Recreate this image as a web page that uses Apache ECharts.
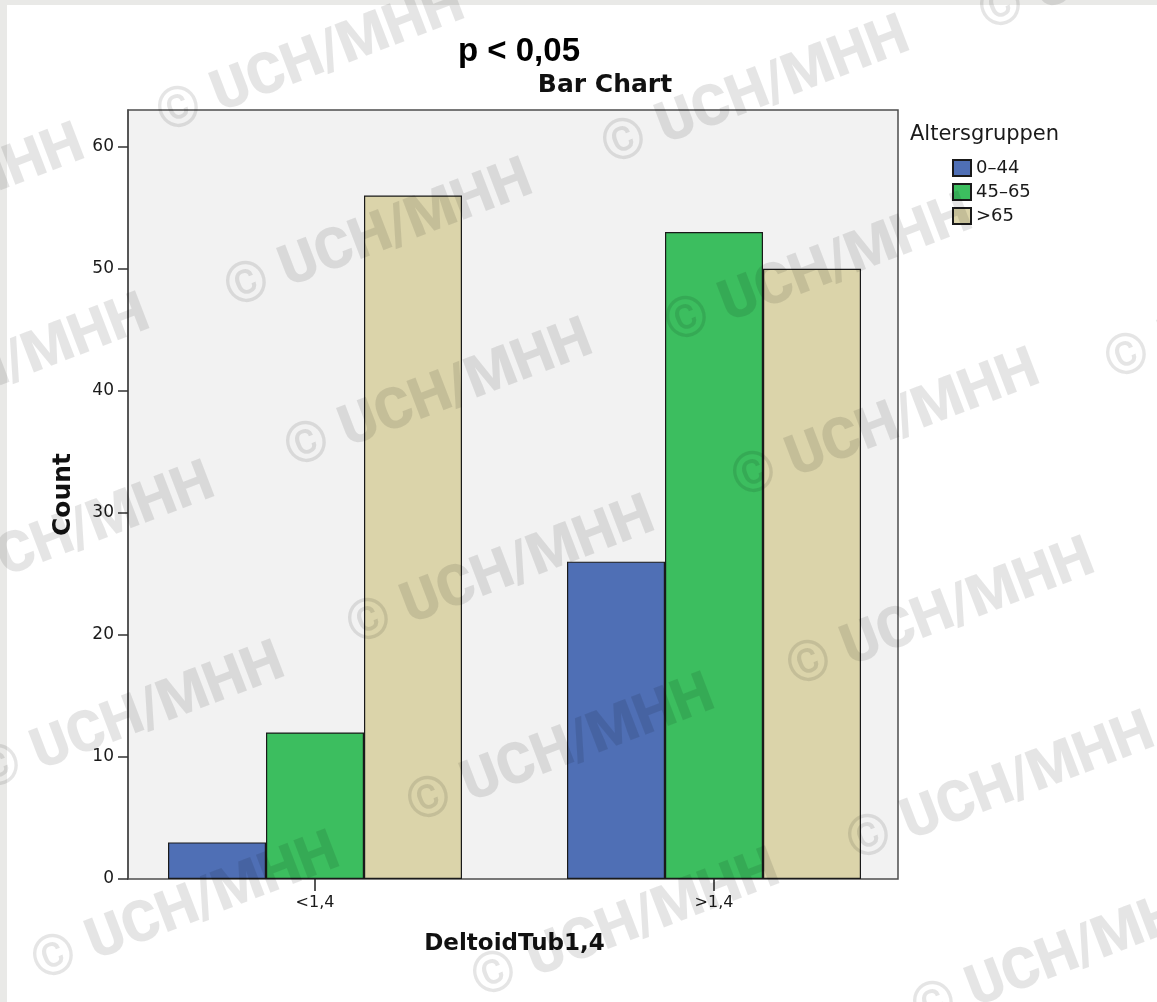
<!DOCTYPE html>
<html>
<head>
<meta charset="utf-8">
<script src="https://cdn.jsdelivr.net/npm/echarts@6/dist/echarts.min.js"></script>
<style>
  html, body { margin: 0; padding: 0; background: #ffffff; }
  #chart { width: 1157px; height: 1002px; }
</style>
</head>
<body>
<div id="chart"></div>
<script>
// Grouped bar chart: counts by DeltoidTub1,4 category and age group
const categories = ['<1,4', '>1,4'];
const ageGroups = ['0–44', '45–65', '>65'];
const counts0to44 = [3, 26];
const counts45to65 = [12, 53];
const countsOver65 = [56, 50];
const yTicks = [0, 10, 20, 30, 40, 50, 60];
const yMax = 63;

const groupColors = ['#4f6fb5', '#3cbe5f', '#dbd4aa'];
const seriesValues = [counts0to44, counts45to65, countsOver65];

// Anchor points of the repeated copyright stamp (position of the "©")
const stampAnchors = [
  [180, 112], [625, 144], [1002, 10],
  [-200, 252], [248, 287], [688, 322], [1128, 359],
  [-135, 422], [308, 447], [755, 477],
  [-70, 590], [370, 624], [810, 666],
  [0, 770], [430, 802], [870, 840],
  [55, 960], [495, 977], [935, 1007]
];

const chart = echarts.init(document.getElementById('chart'), null, { renderer: 'canvas' });

const stampElements = stampAnchors.map(function (p) {
  return {
    type: 'text',
    x: p[0], y: p[1],
    rotation: 21 * Math.PI / 180,
    z: 100,
    silent: true,
    style: {
      text: '© UCH/MHH',
      x: -22, y: 0,
      align: 'left',
      verticalAlign: 'middle',
      fontFamily: 'Roboto, "DejaVu Sans", sans-serif',
      fontWeight: 900,
      fontSize: 57,
      fill: 'rgba(0,0,0,0.1)'
    }
  };
});

const option = {
  backgroundColor: '#ffffff',
  animation: false,
  title: [
    {
      text: 'p < 0,05',
      left: 519, top: 35, padding: 0,
      textAlign: 'center',
      textStyle: { fontFamily: '"Liberation Sans Narrow", "Liberation Sans", Arial, sans-serif', fontWeight: 'bold', fontSize: 33, color: '#000' }
    },
    {
      text: 'Bar Chart',
      left: 605, top: 73, padding: 0,
      textAlign: 'center',
      textStyle: { fontFamily: '"DejaVu Sans", sans-serif', fontWeight: 'bold', fontSize: 25, color: '#111' }
    },
    {
      text: 'Altersgruppen',
      left: 910, top: 124, padding: 0,
      textStyle: { fontFamily: '"DejaVu Sans", sans-serif', fontWeight: 'normal', fontSize: 21, color: '#1a1a1a' }
    }
  ],
  legend: {
    orient: 'vertical',
    left: 952, top: 159,
    padding: 0,
    itemWidth: 18, itemHeight: 16, itemGap: 6,
    icon: 'rect',
    selectedMode: false,
    data: ageGroups,
    textStyle: { fontFamily: '"DejaVu Sans", sans-serif', fontSize: 18, color: '#1a1a1a' }
  },
  grid: [
    // plot frame with the count axis
    { left: 128, top: 110, width: 770, height: 769, show: true,
      backgroundColor: '#f2f2f2', borderColor: '#4d4d4d', borderWidth: 1.5 },
    // bar area (category bands centred under the ticks)
    { left: 115.5, top: 110, width: 798, height: 769 }
  ],
  xAxis: [
    { gridIndex: 0, type: 'category', data: categories, show: false },
    {
      gridIndex: 1, type: 'category', data: categories,
      axisLine: { show: false },
      axisTick: { show: true, alignWithLabel: true, length: 12, lineStyle: { color: '#222', width: 1.5 } },
      axisLabel: { margin: 16, fontFamily: '"DejaVu Sans", sans-serif', fontSize: 16, color: '#1a1a1a' },
      name: 'DeltoidTub1,4',
      nameLocation: 'middle',
      nameGap: 54,
      nameTextStyle: { fontFamily: '"DejaVu Sans", sans-serif', fontWeight: 'bold', fontSize: 23, color: '#111' }
    }
  ],
  yAxis: [
    {
      gridIndex: 0, type: 'value', min: 0, max: yMax,
      splitLine: { show: false },
      axisLine: { show: true, lineStyle: { color: '#4d4d4d', width: 1.5 } },
      axisTick: { show: true, length: 10, customValues: yTicks, lineStyle: { color: '#333', width: 1.5 } },
      axisLabel: { margin: 14, customValues: yTicks, fontFamily: '"DejaVu Sans", sans-serif', fontSize: 17, color: '#1a1a1a' },
      name: 'Count',
      nameLocation: 'middle',
      nameRotate: 90,
      nameGap: 52,
      nameTextStyle: { fontFamily: '"DejaVu Sans", sans-serif', fontWeight: 'bold', fontSize: 25, color: '#111' }
    },
    { gridIndex: 1, type: 'value', min: 0, max: yMax, show: false, splitLine: { show: false } }
  ],
  series: ageGroups.map(function (name, i) {
    return {
      name: name,
      type: 'bar',
      xAxisIndex: 1, yAxisIndex: 1,
      barWidth: 98,
      barGap: '0%',
      data: seriesValues[i],
      itemStyle: { color: groupColors[i], borderColor: '#1a1a1a', borderWidth: 1.2 },
      emphasis: { disabled: true }
    };
  }),
  graphic: [
    { type: 'rect', shape: { x: 0, y: 0, width: 1157, height: 5 }, style: { fill: '#e9e9e7' }, z: 90, silent: true },
    { type: 'rect', shape: { x: 0, y: 0, width: 7, height: 1002 }, style: { fill: '#e9e9e7' }, z: 90, silent: true }
  ].concat(stampElements)
};

chart.setOption(option);
</script>
</body>
</html>
